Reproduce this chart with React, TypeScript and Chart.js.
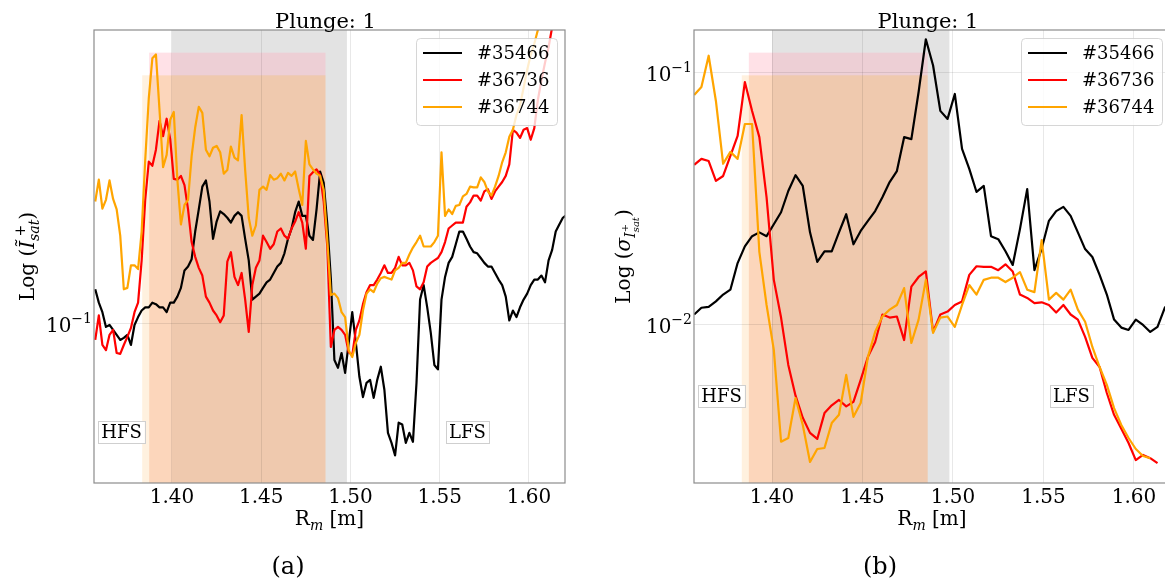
import React, { useEffect, useRef } from 'react';
import { Chart, registerables } from 'chart.js';

Chart.register(...registerables);

const SERIF = '"DejaVu Serif", serif';

// Radial probe positions (m) for the Isat profiles
const R_ISAT = [
  1.357, 1.359, 1.361, 1.363, 1.365, 1.367, 1.369, 1.371, 1.373, 1.375,
  1.377, 1.379, 1.381, 1.383, 1.385, 1.387, 1.389, 1.391, 1.393, 1.395,
  1.397, 1.399, 1.401, 1.403, 1.405, 1.407, 1.409, 1.411, 1.413, 1.415,
  1.417, 1.419, 1.421, 1.423, 1.425, 1.427, 1.429, 1.431, 1.433, 1.435,
  1.437, 1.439, 1.441, 1.443, 1.445, 1.447, 1.449, 1.451, 1.453, 1.455,
  1.457, 1.459, 1.461, 1.463, 1.465, 1.467, 1.469, 1.471, 1.473, 1.475,
  1.477, 1.479, 1.481, 1.483, 1.485, 1.487, 1.489, 1.491, 1.493, 1.495,
  1.497, 1.499, 1.501, 1.503, 1.505, 1.507, 1.509, 1.511, 1.513, 1.515,
  1.517, 1.519, 1.521, 1.523, 1.525, 1.527, 1.529, 1.531, 1.533, 1.535,
  1.537, 1.539, 1.541, 1.543, 1.545, 1.547, 1.549, 1.551, 1.553, 1.555,
  1.557, 1.559, 1.561, 1.563, 1.565, 1.567, 1.569, 1.571, 1.573, 1.575,
  1.577, 1.579, 1.581, 1.583, 1.585, 1.587, 1.589, 1.591, 1.593, 1.595,
  1.597, 1.599, 1.601, 1.603, 1.605, 1.607, 1.609, 1.611, 1.613, 1.615,
  1.617, 1.619, 1.621,
];

// Radial probe positions (m) for the sigma profiles
const R_SIGMA = [
  1.357, 1.361, 1.365, 1.369, 1.373, 1.377, 1.381, 1.385, 1.389, 1.393,
  1.397, 1.401, 1.405, 1.409, 1.413, 1.417, 1.421, 1.425, 1.429, 1.433,
  1.437, 1.441, 1.445, 1.449, 1.453, 1.457, 1.461, 1.465, 1.469, 1.473,
  1.477, 1.481, 1.485, 1.489, 1.493, 1.497, 1.501, 1.505, 1.509, 1.513,
  1.517, 1.521, 1.525, 1.529, 1.533, 1.537, 1.541, 1.545, 1.549, 1.553,
  1.557, 1.561, 1.565, 1.569, 1.573, 1.577, 1.581, 1.585, 1.589, 1.593,
  1.597, 1.601, 1.605, 1.609, 1.613, 1.617, 1.621,
];

// Panel (a): normalised Isat fluctuation level per shot
const ISAT_35466 = [
  0.122, 0.113, 0.107, 0.0983, 0.0994, 0.0966, 0.0939, 0.0912, 0.0923, 0.0939,
  0.0886, 0.0994, 0.104, 0.108, 0.110, 0.110, 0.113, 0.112, 0.110, 0.110,
  0.107, 0.113, 0.113, 0.117, 0.123, 0.136, 0.139, 0.145, 0.170, 0.193,
  0.220, 0.228, 0.202, 0.163, 0.180, 0.191, 0.188, 0.184, 0.179, 0.186,
  0.190, 0.186, 0.163, 0.144, 0.115, 0.117, 0.119, 0.123, 0.127, 0.129,
  0.134, 0.139, 0.142, 0.150, 0.163, 0.173, 0.190, 0.202, 0.186, 0.186,
  0.166, 0.162, 0.193, 0.240, 0.225, 0.178, 0.13, 0.0813, 0.0777, 0.0846,
  0.0755, 0.0897, 0.107, 0.0900, 0.0738, 0.0657, 0.0713, 0.0725, 0.0654, 0.0725,
  0.0782, 0.0685, 0.0535, 0.0505, 0.047, 0.0567, 0.0561, 0.0505, 0.0535, 0.0508,
  0.0713, 0.115, 0.125, 0.110, 0.0950, 0.0790, 0.077, 0.115, 0.131, 0.142,
  0.147, 0.158, 0.170, 0.170, 0.163, 0.156, 0.151, 0.150, 0.146, 0.142,
  0.139, 0.139, 0.134, 0.129, 0.125, 0.117, 0.102, 0.108, 0.104, 0.110,
  0.115, 0.119, 0.125, 0.129, 0.129, 0.132, 0.127, 0.144, 0.153, 0.170,
  0.177, 0.184, 0.187,
];
const ISAT_36736 = [
  0.0912, 0.105, 0.0886, 0.086, 0.0939, 0.0966, 0.0846, 0.0842, 0.0886, 0.0928,
  0.0977, 0.107, 0.113, 0.144, 0.204, 0.254, 0.248, 0.272, 0.321, 0.294,
  0.325, 0.289, 0.230, 0.229, 0.234, 0.222, 0.193, 0.160, 0.147, 0.138,
  0.132, 0.117, 0.113, 0.108, 0.105, 0.101, 0.105, 0.143, 0.151, 0.131,
  0.125, 0.134, 0.115, 0.0955, 0.125, 0.138, 0.144, 0.166, 0.160, 0.154,
  0.158, 0.170, 0.173, 0.166, 0.163, 0.173, 0.180, 0.190, 0.179, 0.154,
  0.234, 0.239, 0.243, 0.235, 0.202, 0.156, 0.0876, 0.0966, 0.0983, 0.0966,
  0.0939, 0.0850, 0.0836, 0.0966, 0.102, 0.112, 0.120, 0.125, 0.125, 0.129,
  0.134, 0.140, 0.134, 0.134, 0.138, 0.147, 0.140, 0.140, 0.142, 0.136,
  0.124, 0.122, 0.127, 0.139, 0.142, 0.144, 0.146, 0.151, 0.160, 0.173,
  0.176, 0.179, 0.179, 0.179, 0.196, 0.201, 0.209, 0.209, 0.203, 0.214,
  0.217, 0.205, 0.214, 0.220, 0.226, 0.234, 0.250, 0.305, 0.300, 0.291,
  0.305, 0.308, 0.288, 0.308, 0.362, 0.406, 0.448, 0.49, 0.550, 0.60,
  0.64, null, null,
];
const ISAT_36744 = [
  0.202, 0.229, 0.194, 0.204, 0.228, 0.205, 0.193, 0.166, 0.122, 0.123,
  0.140, 0.140, 0.137, 0.170, 0.256, 0.366, 0.46, 0.47, 0.342, 0.246,
  0.264, 0.323, 0.338, 0.229, 0.177, 0.198, 0.204, 0.262, 0.309, 0.348,
  0.336, 0.272, 0.262, 0.275, 0.278, 0.268, 0.237, 0.242, 0.277, 0.260,
  0.256, 0.332, 0.242, 0.184, 0.166, 0.176, 0.216, 0.220, 0.216, 0.235,
  0.229, 0.231, 0.237, 0.228, 0.238, 0.234, 0.240, 0.217, 0.198, 0.286,
  0.25, 0.243, 0.237, 0.234, 0.216, 0.162, 0.118, 0.119, 0.116, 0.107,
  0.104, 0.086, 0.0827, 0.0896, 0.0939, 0.108, 0.119, 0.122, 0.120, 0.126,
  0.130, 0.131, 0.130, 0.129, 0.136, 0.138, 0.142, 0.142, 0.149, 0.155,
  0.160, 0.166, 0.156, 0.156, 0.156, 0.160, 0.166, 0.268, 0.186, 0.193,
  0.188, 0.197, 0.198, 0.208, 0.211, 0.220, 0.219, 0.219, 0.232, 0.226,
  0.214, 0.209, 0.220, 0.234, 0.253, 0.268, 0.293, 0.305, 0.332, 0.351,
  0.388, 0.43, 0.469, 0.50, 0.541, 0.57, 0.61, null, null, null,
  null, null, null,
];

// Panel (b): standard deviation of Isat per shot
const SIGMA_35466 = [
  0.0110, 0.0117, 0.0118, 0.0124, 0.0132, 0.0138, 0.0176, 0.0205, 0.0225, 0.0233,
  0.0225, 0.0251, 0.0280, 0.0340, 0.0393, 0.0356, 0.0233, 0.0178, 0.0196, 0.0196,
  0.0233, 0.0275, 0.0209, 0.0236, 0.0259, 0.0283, 0.0321, 0.0369, 0.0408, 0.0556,
  0.0546, 0.0840, 0.136, 0.107, 0.0707, 0.0657, 0.0825, 0.0500, 0.0416, 0.0337,
  0.0356, 0.0225, 0.0219, 0.0196, 0.0173, 0.0240, 0.0346, 0.0165, 0.0201, 0.0259,
  0.0283, 0.0294, 0.0271, 0.0233, 0.0200, 0.0186, 0.0158, 0.0132, 0.0105, 0.00976,
  0.00955, 0.0105, 0.0100, 0.00938, 0.00982, 0.0117, 0.0126,
];
const SIGMA_36736 = [
  0.0432, 0.0456, 0.0447, 0.0373, 0.0390, 0.0469, 0.0562, 0.092, 0.0706, 0.0556,
  0.0321, 0.0151, 0.0107, 0.00694, 0.00524, 0.00428, 0.00373, 0.00353, 0.00447, 0.00480,
  0.00504, 0.00475, 0.00495, 0.00605, 0.00747, 0.00856, 0.0110, 0.0107, 0.0108, 0.00871,
  0.0142, 0.0155, 0.0163, 0.00939, 0.0110, 0.0113, 0.0120, 0.0124, 0.0158, 0.0171,
  0.0170, 0.0170, 0.0165, 0.0174, 0.0163, 0.0132, 0.0128, 0.0122, 0.0123, 0.0120,
  0.0112, 0.0120, 0.0110, 0.0105, 0.00897, 0.00740, 0.00681, 0.00537, 0.00440, 0.00387,
  0.00340, 0.00291, 0.00305, 0.00296, 0.00283, null, null,
];
const SIGMA_36744 = [
  0.0818, 0.0880, 0.117, 0.0774, 0.0436, 0.0486, 0.0456, 0.0627, 0.0627, 0.0195,
  0.0120, 0.00796, 0.00344, 0.00356, 0.00513, 0.00401, 0.00286, 0.00322, 0.00325, 0.00408,
  0.00440, 0.00634, 0.00432, 0.00490, 0.00747, 0.00939, 0.0108, 0.0115, 0.0120, 0.0140,
  0.00848, 0.0105, 0.0151, 0.00930, 0.0107, 0.0108, 0.00982, 0.0120, 0.0144, 0.0132,
  0.0151, 0.0154, 0.0154, 0.0148, 0.0154, 0.0162, 0.0138, 0.0135, 0.0217, 0.0126,
  0.0134, 0.0126, 0.0138, 0.0115, 0.0103, 0.00818, 0.00681, 0.00578, 0.00468, 0.00401,
  0.00356, 0.00322, 0.00302, 0.00296, null, null, null,
];

const SHOTS = ['#35466', '#36736', '#36744'];
const SHOT_COLORS = ['#000000', '#ff0000', '#ffa500'];

const R_TICKS = [1.4, 1.45, 1.5, 1.55, 1.6];
const ISAT_TICKS = [0.1];
const SIGMA_TICKS = [0.01, 0.1];

// Shaded radial intervals (m)
const GREY_SPAN = [1.4, 1.498];
const CREAM_SPAN = [1.3833, 1.486];
const PEACH_SPAN = [1.3872, 1.486];

type Seg = { t: string; size: number; dy?: number; italic?: boolean; hold?: boolean };

const segFont = (s: Seg) => `${s.italic ? 'italic ' : ''}${s.size}px ${SERIF}`;

// Draws a run of text pieces with sub/superscripts; "hold" pieces share x with the next piece
function drawRich(ctx: CanvasRenderingContext2D, segs: Seg[], x: number, y: number, align: string) {
  let cursor = 0;
  let held = 0;
  const placed = segs.map((s) => {
    ctx.font = segFont(s);
    const w = ctx.measureText(s.t).width;
    const at = cursor;
    if (s.hold) held = Math.max(held, w);
    else {
      cursor += Math.max(w, held);
      held = 0;
    }
    return { s, at };
  });
  const x0 = align === 'center' ? x - cursor / 2 : align === 'right' ? x - cursor : x;
  ctx.textAlign = 'left';
  ctx.textBaseline = 'alphabetic';
  for (const { s, at } of placed) {
    ctx.font = segFont(s);
    ctx.fillText(s.t, x0 + at, y + (s.dy || 0));
  }
}

const ISAT_LABEL: Seg[] = [
  { t: 'Log (', size: 20 },
  { t: 'Ĩ', size: 20, italic: true },
  { t: ' +', size: 14, dy: -9, hold: true },
  { t: 'sat', size: 14, dy: 5, italic: true },
  { t: ')', size: 20 },
];
const SIGMA_LABEL: Seg[] = [
  { t: 'Log (', size: 20 },
  { t: 'σ', size: 20, italic: true },
  { t: 'I', size: 14, dy: 5, italic: true },
  { t: '+', size: 10, dy: -2, hold: true },
  { t: 'sat', size: 10, dy: 9, italic: true },
  { t: ')', size: 20 },
];
const R_LABEL: Seg[] = [
  { t: 'R', size: 20 },
  { t: 'm', size: 14, dy: 5, italic: true },
  { t: ' [m]', size: 20 },
];

type PanelSpec = {
  r: number[];
  series: (number | null)[][];
  xMin: number;
  xMax: number;
  yMin: number;
  yMax: number;
  yTicks: number[];
  yLabel: Seg[];
  yLabelX: number;
  boxes: { text: string; fx: number; fy: number }[];
  caption: string;
  captionX: number;
  canvasW: number;
  axisW: number;
  padRight: number;
};

function decorations(p: PanelSpec) {
  return {
    id: 'decorations',
    beforeDraw(chart: any) {
      const { ctx, chartArea: ca } = chart;
      const xs = chart.scales.x;
      const band = (span: number[], f0: number, f1: number, color: string) => {
        const x0 = xs.getPixelForValue(span[0]);
        const x1 = xs.getPixelForValue(span[1]);
        const h = ca.bottom - ca.top;
        const yTop = ca.bottom - f1 * h;
        const yBot = ca.bottom - f0 * h;
        ctx.fillStyle = color;
        ctx.fillRect(x0, yTop, x1 - x0, yBot - yTop);
      };
      ctx.save();
      band(GREY_SPAN, 0, 1, 'rgba(140,140,140,0.24)');
      band(CREAM_SPAN, 0, 0.9, 'rgba(255,210,150,0.3)');
      band(PEACH_SPAN, 0, 0.9, 'rgba(245,155,105,0.31)');
      band(PEACH_SPAN, 0.9, 0.95, 'rgba(255,170,185,0.35)');
      ctx.restore();
    },
    afterDatasetsDraw(chart: any) {
      const { ctx, chartArea: ca } = chart;
      const w = ca.right - ca.left;
      const h = ca.bottom - ca.top;
      ctx.save();
      // axes frame
      ctx.strokeStyle = '#8c8c8c';
      ctx.lineWidth = 1.2;
      ctx.strokeRect(ca.left, ca.top, w, h);

      // HFS / LFS tags
      ctx.font = `18px ${SERIF}`;
      for (const b of p.boxes) {
        const cx = ca.left + b.fx * w;
        const cy = ca.bottom - b.fy * h;
        const bw = ctx.measureText(b.text).width + 6;
        const bh = 22;
        ctx.fillStyle = '#ffffff';
        ctx.fillRect(cx - bw / 2, cy - bh / 2, bw, bh);
        ctx.strokeStyle = '#cfcfcf';
        ctx.lineWidth = 1;
        ctx.strokeRect(Math.round(cx - bw / 2) + 0.5, Math.round(cy - bh / 2) + 0.5, Math.round(bw), bh);
        ctx.fillStyle = '#000000';
        ctx.textAlign = 'center';
        ctx.textBaseline = 'middle';
        ctx.fillText(b.text, cx, cy + 1);
      }

      // legend
      const lw = 141;
      const lh = 87;
      const lx = ca.right - 8 - lw;
      const ly = ca.top + 8;
      ctx.beginPath();
      if ((ctx as any).roundRect) (ctx as any).roundRect(lx + 0.5, ly + 0.5, lw, lh, 4);
      else ctx.rect(lx + 0.5, ly + 0.5, lw, lh);
      ctx.fillStyle = 'rgba(255,255,255,0.8)';
      ctx.fill();
      ctx.strokeStyle = 'rgba(204,204,204,0.8)';
      ctx.lineWidth = 1;
      ctx.stroke();
      SHOTS.forEach((name, i) => {
        const ry = ly + 15 + 27 * i;
        ctx.strokeStyle = SHOT_COLORS[i];
        ctx.lineWidth = 2.2;
        ctx.beginPath();
        ctx.moveTo(lx + 7, ry);
        ctx.lineTo(lx + 46, ry);
        ctx.stroke();
        ctx.fillStyle = '#000000';
        ctx.font = `18px ${SERIF}`;
        ctx.textAlign = 'left';
        ctx.textBaseline = 'middle';
        ctx.fillText(name, lx + 61, ry + 1);
      });
      ctx.restore();
    },
    afterDraw(chart: any) {
      const { ctx, chartArea: ca } = chart;
      const xs = chart.scales.x;
      const ys = chart.scales.y;
      const midX = (ca.left + ca.right) / 2;
      ctx.save();
      ctx.fillStyle = '#000000';

      // title
      ctx.font = `21px ${SERIF}`;
      ctx.textAlign = 'center';
      ctx.textBaseline = 'alphabetic';
      ctx.fillText('Plunge: 1', midX - 4, 28);

      // x tick labels
      ctx.font = `20px ${SERIF}`;
      for (const v of R_TICKS) {
        ctx.textAlign = 'center';
        ctx.textBaseline = 'alphabetic';
        ctx.fillText(v.toFixed(2), xs.getPixelForValue(v), ca.bottom + 19.5);
      }

      // y tick labels as powers of ten
      for (const v of p.yTicks) {
        const e = Math.round(Math.log10(v));
        const py = ys.getPixelForValue(v);
        drawRich(
          ctx,
          [
            { t: '10', size: 20 },
            { t: (e < 0 ? '−' : '') + Math.abs(e), size: 14, dy: -9 },
          ],
          ca.left - 2,
          py + 8,
          'right'
        );
      }

      // axis titles
      drawRich(ctx, R_LABEL, midX, ca.bottom + 42, 'center');
      ctx.save();
      ctx.translate(p.yLabelX, (ca.top + ca.bottom) / 2);
      ctx.rotate(-Math.PI / 2);
      drawRich(ctx, p.yLabel, 0, 0, 'center');
      ctx.restore();

      // sub-figure caption
      ctx.font = `24px ${SERIF}`;
      ctx.textAlign = 'center';
      ctx.textBaseline = 'alphabetic';
      ctx.fillText(p.caption, p.captionX, 574);
      ctx.restore();
    },
  };
}

function makeConfig(p: PanelSpec): any {
  const datasets = p.series.map((vals, i) => ({
    label: SHOTS[i],
    data: p.r.map((r, k) => ({ x: r, y: vals[k] })),
    borderColor: SHOT_COLORS[i],
    backgroundColor: SHOT_COLORS[i],
    borderWidth: 2.2,
    borderJoinStyle: 'round',
    pointRadius: 0,
    tension: 0,
    fill: false,
    spanGaps: false,
    order: 3 - i,
  }));
  const grid = { color: 'rgba(0,0,0,0.09)', lineWidth: 1, drawTicks: false };
  return {
    type: 'line',
    data: { datasets },
    options: {
      animation: false,
      responsive: false,
      devicePixelRatio: 1,
      events: [],
      layout: { padding: { left: 0, right: p.padRight, top: 30, bottom: 0 } },
      plugins: {
        legend: { display: false },
        tooltip: { enabled: false },
        title: { display: false },
      },
      scales: {
        x: {
          type: 'linear',
          min: p.xMin,
          max: p.xMax,
          afterBuildTicks: (s: any) => {
            s.ticks = R_TICKS.map((v) => ({ value: v }));
          },
          afterFit: (s: any) => {
            s.height = 99;
          },
          ticks: { display: false },
          grid,
          border: { display: false },
        },
        y: {
          type: 'logarithmic',
          min: p.yMin,
          max: p.yMax,
          afterBuildTicks: (s: any) => {
            s.ticks = p.yTicks.map((v) => ({ value: v }));
          },
          afterFit: (s: any) => {
            s.width = p.axisW;
          },
          ticks: { display: false },
          grid,
          border: { display: false },
        },
      },
    },
    plugins: [decorations(p)],
  };
}

const PANEL_A: PanelSpec = {
  r: R_ISAT,
  series: [ISAT_35466, ISAT_36736, ISAT_36744],
  xMin: 1.3563,
  xMax: 1.6202,
  yMin: 0.0401,
  yMax: 0.541,
  yTicks: ISAT_TICKS,
  yLabel: ISAT_LABEL,
  yLabelX: 34,
  boxes: [
    { text: 'HFS', fx: 0.0584, fy: 0.1115 },
    { text: 'LFS', fx: 0.793, fy: 0.1115 },
  ],
  caption: '(a)',
  captionX: 288,
  canvasW: 582,
  axisW: 94,
  padRight: 17,
};

const PANEL_B: PanelSpec = {
  r: R_SIGMA,
  series: [SIGMA_35466, SIGMA_36736, SIGMA_36744],
  xMin: 1.3569,
  xMax: 1.6199,
  yMin: 0.00236,
  yMax: 0.148,
  yTicks: SIGMA_TICKS,
  yLabel: SIGMA_LABEL,
  yLabelX: 48,
  boxes: [
    { text: 'HFS', fx: 0.0578, fy: 0.191 },
    { text: 'LFS', fx: 0.793, fy: 0.191 },
  ],
  caption: '(b)',
  captionX: 298,
  canvasW: 600,
  axisW: 112,
  padRight: 12,
};

function Panel({ spec, left }: { spec: PanelSpec; left: number }) {
  const ref = useRef<HTMLCanvasElement>(null);
  useEffect(() => {
    const chart = new Chart(ref.current as HTMLCanvasElement, makeConfig(spec));
    return () => chart.destroy();
  }, [spec]);
  return (
    <canvas
      ref={ref}
      width={spec.canvasW}
      height={582}
      style={{ position: 'absolute', left, top: 0, width: spec.canvasW, height: 582 }}
    />
  );
}

export default function App() {
  return (
    <div
      style={{
        position: 'fixed',
        left: 0,
        top: 0,
        width: 1165,
        height: 582,
        overflow: 'hidden',
        background: '#ffffff',
      }}
    >
      <Panel spec={PANEL_A} left={0} />
      <Panel spec={PANEL_B} left={582} />
    </div>
  );
}
